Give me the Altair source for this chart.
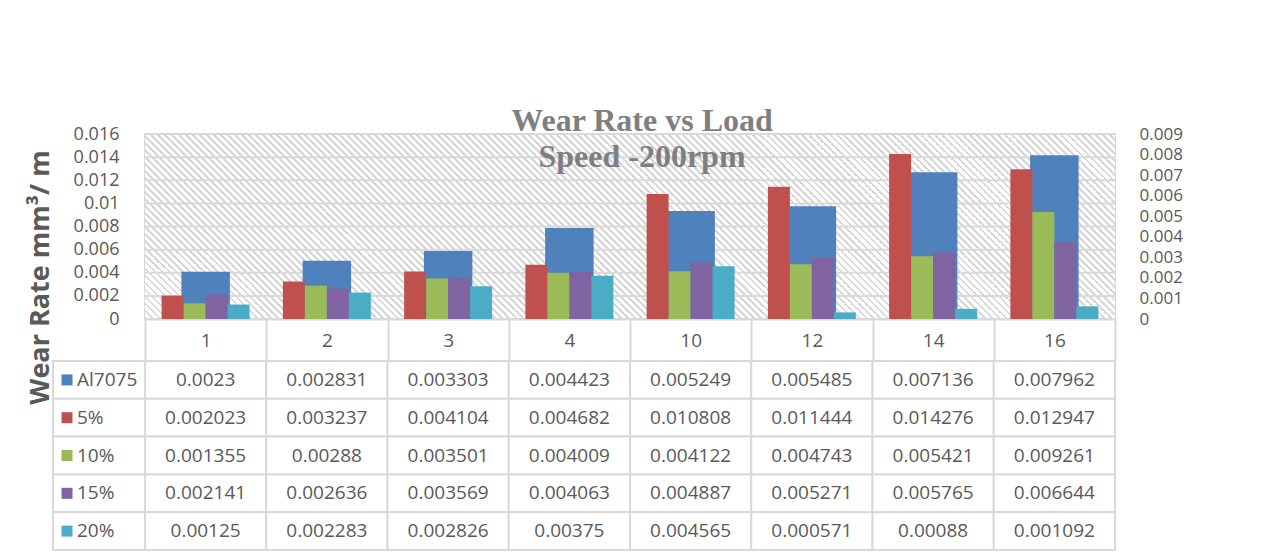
import altair as alt
import pandas as pd

# ---------------- data ----------------
loads = ["1", "2", "3", "4", "10", "12", "14", "16"]
series = ["Al7075", "5%", "10%", "15%", "20%"]
al7075 = [0.0023, 0.002831, 0.003303, 0.004423, 0.005249, 0.005485, 0.007136, 0.007962]
p5 = [0.002023, 0.003237, 0.004104, 0.004682, 0.010808, 0.011444, 0.014276, 0.012947]
p10 = [0.001355, 0.00288, 0.003501, 0.004009, 0.004122, 0.004743, 0.005421, 0.009261]
p15 = [0.002141, 0.002636, 0.003569, 0.004063, 0.004887, 0.005271, 0.005765, 0.006644]
p20 = [0.00125, 0.002283, 0.002826, 0.00375, 0.004565, 0.000571, 0.00088, 0.001092]
left_ticks = [0, 0.002, 0.004, 0.006, 0.008, 0.01, 0.012, 0.014, 0.016]
right_ticks = [0, 0.001, 0.002, 0.003, 0.004, 0.005, 0.006, 0.007, 0.008, 0.009]
colors = ["#4F81BD", "#C0504D", "#9BBB59", "#8064A2", "#4BACC6"]

values = {"Al7075": al7075, "5%": p5, "10%": p10, "15%": p15, "20%": p20}
rows = []
for s in series:
    for l, v in zip(loads, values[s]):
        rows.append({"load": l, "series": s, "value": v, "label": str(v)})
df = pd.DataFrame(rows)
leg_df = pd.DataFrame({"series": series})
grid_df = pd.DataFrame({"v": left_ticks})
one_df = pd.DataFrame({"a": [0]})

# ---------------- style ----------------
FONT = "Open Sans"
TXT = "#595959"
GRID = "#d9d9d9"
PW, PH = 970, 185

# diagonal hatch for the plot area, made as a striped linear gradient
period = 7
n = round((PW + PH) / period)
stops = []
for k in range(n):
    t0 = k / n
    t1 = (k + 1) / n
    tm = t0 + 0.4 / n
    stops += [
        {"offset": t0, "color": "#d6d6d6"},
        {"offset": tm, "color": "#d6d6d6"},
        {"offset": tm, "color": "#ffffff"},
        {"offset": min(t1, 1.0), "color": "#ffffff"},
    ]
ga = PW / (PW + PH)
gb = -PH / (PW + PH)
gs = ga * ga + gb * gb
hatch = {"gradient": "linear", "x1": 0, "y1": 1, "x2": ga / gs, "y2": 1 + gb / gs, "stops": stops}

color_scale = alt.Scale(domain=series, range=colors)
band = alt.Scale(paddingInner=0, paddingOuter=0)

x_enc = alt.X(
    "load:N", sort=loads, scale=band,
    axis=alt.Axis(
        title=None, labelAngle=0, tickBand="extent", tickSize=42, tickColor=GRID, tickWidth=2,
        domainColor=GRID, domainWidth=2, labelFont=FONT, labelFontSize=19, labelColor=TXT,
        labelPadding=-21, labelBaseline="middle", grid=False,
    ),
)

hatch_layer = alt.Chart(one_df).mark_rect(fill=hatch, strokeWidth=0).encode(
    x=alt.value(0), x2=alt.value("width"), y=alt.value(0), y2=alt.value("height")
)

grid_layer = alt.Chart(grid_df).mark_rule(color=GRID, strokeWidth=2).encode(
    y=alt.Y("v:Q", scale=alt.Scale(domain=[0, 0.016], nice=False), axis=None)
)

secondary = alt.Chart(df).transform_filter(alt.datum.series == "Al7075").mark_bar(
    width=alt.RelativeBandSize(0.4), color=colors[0]
).encode(
    x=x_enc,
    y=alt.Y(
        "value:Q", scale=alt.Scale(domain=[0, 0.009], nice=False),
        axis=alt.Axis(
            orient="right", values=right_ticks, format="~g", grid=False, ticks=False, domain=False,
            labelPadding=24, labelFont=FONT, labelFontSize=17, labelColor=TXT, title=None,
        ),
    ),
)

primary = alt.Chart(df).transform_filter(alt.datum.series != "Al7075").mark_bar().encode(
    x=x_enc,
    xOffset=alt.XOffset("series:N", sort=series[1:], scale=alt.Scale(paddingInner=0, paddingOuter=0.756)),
    y=alt.Y(
        "value:Q", scale=alt.Scale(domain=[0, 0.016], nice=False),
        axis=alt.Axis(
            orient="left", values=left_ticks, format="~g", grid=False,
            ticks=False, domain=False, labelPadding=26, labelFont=FONT, labelFontSize=18, labelColor=TXT,
            title="Wear Rate mm³/ m", titleFont=FONT, titleFontSize=27, titleFontWeight="bold",
            titleColor=TXT, titleX=-105, titleY=143, titleAngle=270, titleAlign="center",
            titleBaseline="middle",
        ),
    ),
    color=alt.Color("series:N", scale=color_scale, legend=None),
)

bars = alt.layer(hatch_layer, grid_layer, secondary, primary).resolve_scale(y="independent").properties(
    width=PW, height=PH,
    title=alt.TitleParams(
        text=["Wear Rate vs Load", "Speed -200rpm"], font="Liberation Serif", fontSize=32,
        fontWeight="bold", color="#7f7f7f", lineHeight=36, offset=-49, anchor="middle", dx=12,
    ),
    view=alt.ViewBackground(stroke=GRID, strokeWidth=2),
)

spacer = alt.Chart(leg_df).mark_text().encode(text=alt.value("")).properties(
    width=92, height=PH, view=alt.ViewBackground(stroke="transparent")
)

# ---------------- data table ----------------
table_base = alt.Chart(df).encode(
    x=alt.X("load:N", sort=loads, scale=band, axis=None),
    y=alt.Y("series:N", sort=series, scale=band, axis=None),
)
cells = table_base.mark_rect(fill="white", stroke=GRID, strokeWidth=2)
texts = table_base.mark_text(font=FONT, fontSize=19, color=TXT).encode(text="label:N")
table = alt.layer(cells, texts).properties(width=PW, height=189, view=alt.ViewBackground(stroke="transparent"))

leg_base = alt.Chart(leg_df).encode(y=alt.Y("series:N", sort=series, scale=band, axis=None))
leg_cells = leg_base.mark_rect(fill="white", stroke=GRID, strokeWidth=2)
leg_sq = leg_base.mark_square(size=121, opacity=1, filled=True).encode(
    x=alt.value(14), color=alt.Color("series:N", scale=color_scale, legend=None)
)
leg_txt = leg_base.mark_text(align="left", font=FONT, fontSize=19, color=TXT).encode(
    x=alt.value(24), text="series:N"
)
legend = alt.layer(leg_cells, leg_sq, leg_txt).properties(
    width=92, height=189, view=alt.ViewBackground(stroke="transparent")
)

chart = alt.concat(
    spacer, bars, legend, table, columns=2, spacing={"row": 42, "column": 0}, bounds="flush"
).properties(
    padding={"left": 17, "top": 96, "right": 5, "bottom": 5},
    background="white",
).configure_view(stroke="transparent")

chart.save("out.html", embed_options={"renderer": "svg", "actions": False})
